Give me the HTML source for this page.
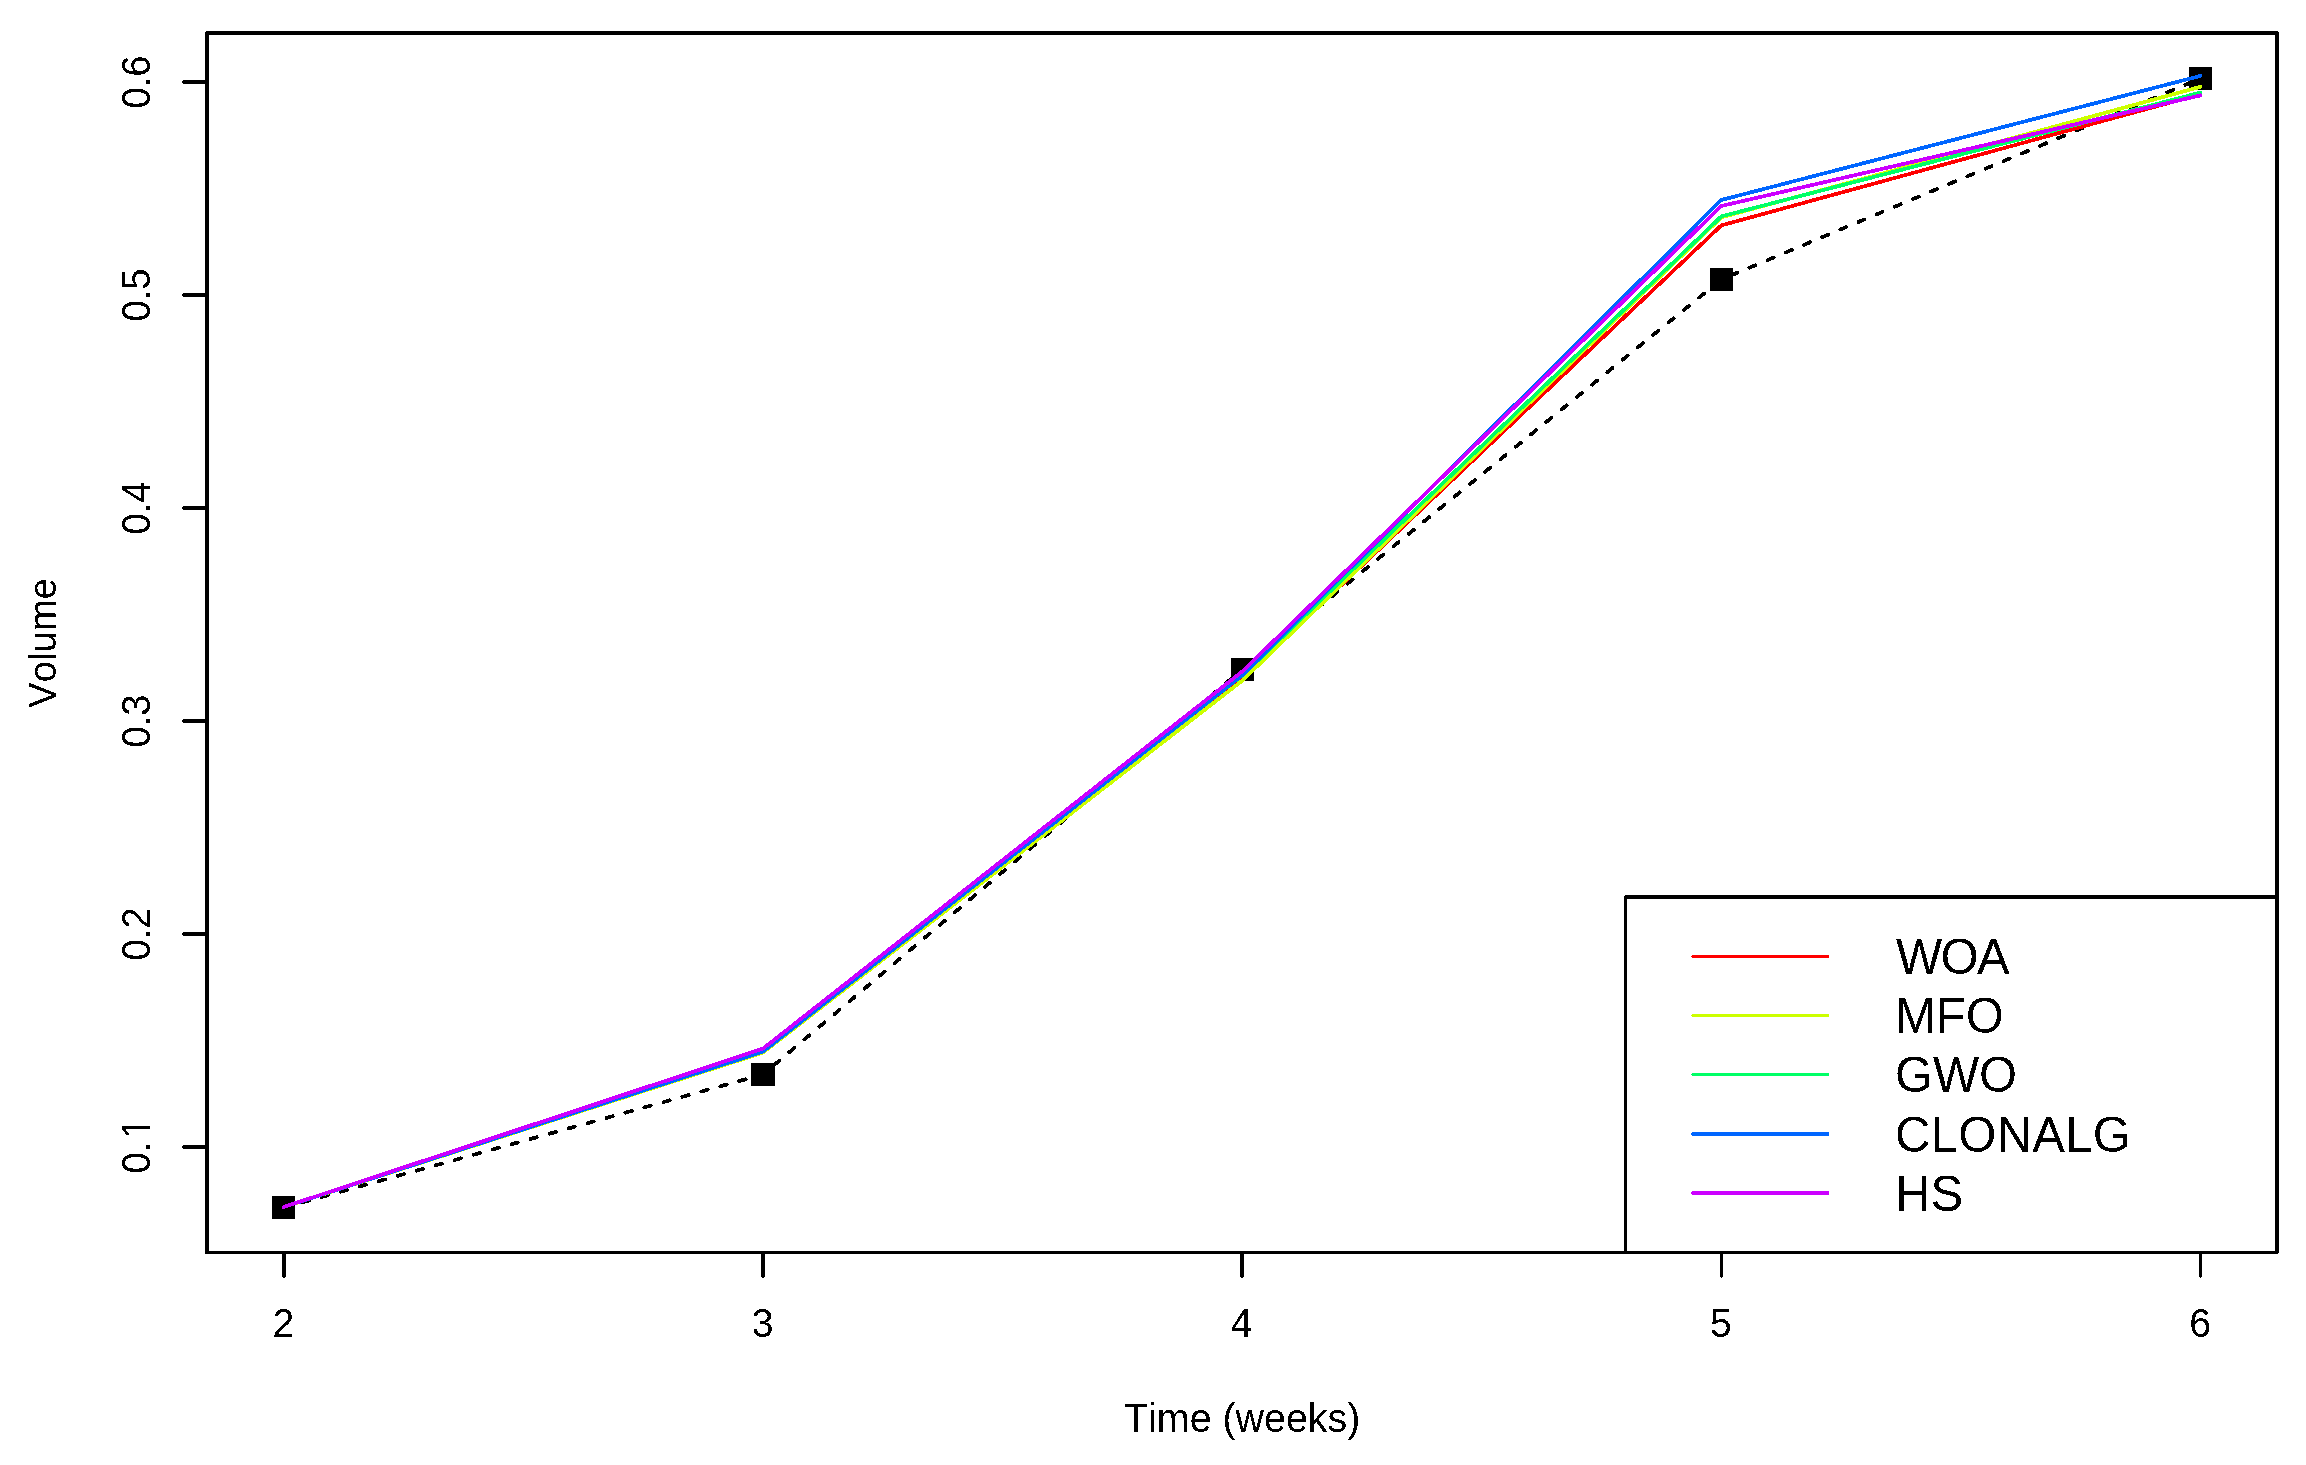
<!DOCTYPE html>
<html><head><meta charset="utf-8"><title>Volume vs Time</title>
<style>
html,body{margin:0;padding:0;background:#fff;}
svg{display:block;}
text{font-family:"Liberation Sans",Arial,Helvetica,sans-serif;fill:#000;font-kerning:none;}
</style></head><body>
<svg width="2306" height="1465" viewBox="0 0 2306 1465" shape-rendering="crispEdges">
<defs><filter id="bw" x="-5%" y="-5%" width="110%" height="110%" color-interpolation-filters="sRGB"><feComponentTransfer><feFuncA type="discrete" tableValues="0 1"/></feComponentTransfer></filter></defs>
<rect x="0" y="0" width="2306" height="1465" fill="#fff"/>

<g fill="#000" shape-rendering="crispEdges">
<rect x="272" y="1196" width="23" height="23"/>
<rect x="751" y="1063" width="24" height="23"/>
<rect x="1231" y="658" width="23" height="23"/>
<rect x="1710" y="268" width="23" height="23"/>
<rect x="2189" y="67" width="23" height="23"/>
</g>
<polyline points="283.7,1207.5 762.9,1074.5 1242.1,669.5 1721.3,279.5 2200.5,78.5" fill="none" stroke="#000" stroke-width="3.75" stroke-dasharray="6.6 13.1" stroke-linecap="round" stroke-linejoin="round"/>
<polyline points="283.7,1207.0 762.9,1051.2 1242.1,679.0 1721.3,225.4 2200.5,94.3" fill="none" stroke="#FF0000" stroke-width="3.75" stroke-linecap="round" stroke-linejoin="round"/>
<polyline points="283.7,1207.0 762.9,1052.7 1242.1,680.8 1721.3,217.4 2200.5,86.8" fill="none" stroke="#CCFF00" stroke-width="3.75" stroke-linecap="round" stroke-linejoin="round"/>
<polyline points="283.7,1207.0 762.9,1051.2 1242.1,675.6 1721.3,216.4 2200.5,92.6" fill="none" stroke="#00FF66" stroke-width="3.75" stroke-linecap="round" stroke-linejoin="round"/>
<polyline points="283.7,1207.0 762.9,1051.7 1242.1,675.4 1721.3,200.0 2200.5,75.9" fill="none" stroke="#0066FF" stroke-width="3.75" stroke-linecap="round" stroke-linejoin="round"/>
<polyline points="283.7,1207.0 762.9,1048.7 1242.1,671.6 1721.3,206.0 2200.5,95.4" fill="none" stroke="#CC00FF" stroke-width="3.75" stroke-linecap="round" stroke-linejoin="round"/>
<g shape-rendering="crispEdges">
<rect x="206" y="31" width="2072" height="4" fill="#000"/>
<rect x="205" y="32" width="1" height="3" fill="#000"/>
<rect x="2278" y="32" width="1" height="3" fill="#000"/>
<rect x="205" y="35" width="4" height="1219" fill="#000"/>
<rect x="2275" y="35" width="4" height="1218" fill="#000"/>
<rect x="2275" y="1253" width="3" height="1" fill="#000"/>
<rect x="206" y="1251" width="2072" height="3" fill="#000"/>
<rect x="205" y="1251" width="1" height="2" fill="#000"/>
<rect x="282" y="1254" width="4" height="23" fill="#000"/>
<rect x="283" y="1277" width="2" height="1" fill="#000"/>
<rect x="761" y="1254" width="4" height="23" fill="#000"/>
<rect x="762" y="1277" width="2" height="1" fill="#000"/>
<rect x="1240" y="1254" width="4" height="23" fill="#000"/>
<rect x="1241" y="1277" width="2" height="1" fill="#000"/>
<rect x="1720" y="1254" width="3" height="23" fill="#000"/>
<rect x="1721" y="1277" width="1" height="1" fill="#000"/>
<rect x="2199" y="1254" width="3" height="23" fill="#000"/>
<rect x="2200" y="1277" width="1" height="1" fill="#000"/>
<rect x="183" y="80" width="22" height="4" fill="#000"/>
<rect x="182" y="81" width="1" height="2" fill="#000"/>
<rect x="183" y="293" width="22" height="4" fill="#000"/>
<rect x="182" y="294" width="1" height="2" fill="#000"/>
<rect x="183" y="506" width="22" height="4" fill="#000"/>
<rect x="182" y="507" width="1" height="2" fill="#000"/>
<rect x="183" y="719" width="22" height="4" fill="#000"/>
<rect x="182" y="720" width="1" height="2" fill="#000"/>
<rect x="183" y="932" width="22" height="4" fill="#000"/>
<rect x="182" y="933" width="1" height="2" fill="#000"/>
<rect x="183" y="1145" width="22" height="4" fill="#000"/>
<rect x="182" y="1146" width="1" height="2" fill="#000"/>
</g>
<g shape-rendering="crispEdges">
<rect x="1627" y="899" width="648" height="352" fill="#fff"/>
<rect x="1625" y="895" width="650" height="4" fill="#000"/>
<rect x="1624" y="896" width="1" height="3" fill="#000"/>
<rect x="1624" y="899" width="3" height="352" fill="#000"/>
<rect x="1692" y="955" width="137" height="3" fill="#FF0000"/>
<rect x="1691" y="956" width="1" height="1" fill="#FF0000"/>
<rect x="1692" y="1014" width="137" height="3" fill="#CCFF00"/>
<rect x="1691" y="1015" width="1" height="1" fill="#CCFF00"/>
<rect x="1692" y="1073" width="137" height="3" fill="#00FF66"/>
<rect x="1691" y="1074" width="1" height="1" fill="#00FF66"/>
<rect x="1692" y="1132" width="137" height="4" fill="#0066FF"/>
<rect x="1691" y="1133" width="1" height="2" fill="#0066FF"/>
<rect x="1692" y="1191" width="137" height="4" fill="#CC00FF"/>
<rect x="1691" y="1192" width="1" height="2" fill="#CC00FF"/>
</g>
<g filter="url(#bw)">
<text transform="translate(283.4 1337.0) scale(1 1.030)" font-size="39.3" text-anchor="middle">2</text>
<text transform="translate(762.6 1337.0) scale(1 1.030)" font-size="39.3" text-anchor="middle">3</text>
<text transform="translate(1241.8 1337.0) scale(1 1.030)" font-size="39.3" text-anchor="middle">4</text>
<text transform="translate(1721.0 1337.0) scale(1 1.030)" font-size="39.3" text-anchor="middle">5</text>
<text transform="translate(2200.2 1337.0) scale(1 1.030)" font-size="39.3" text-anchor="middle">6</text>
<g transform="translate(150 1147.0) rotate(-90) scale(1 1.06)"><text font-size="38.3" x="-26.6 -5.3 8.0">0.1</text><rect x="10.4" y="-4.1" width="7.15" height="4.8" fill="#fff"/><rect x="21.1" y="-4.1" width="7" height="4.8" fill="#fff"/></g>
<text transform="translate(150.0 934.0) rotate(-90) scale(1 1.060)" font-size="38.3" text-anchor="middle">0.2</text>
<text transform="translate(150.0 721.0) rotate(-90) scale(1 1.060)" font-size="38.3" text-anchor="middle">0.3</text>
<text transform="translate(150.0 508.0) rotate(-90) scale(1 1.060)" font-size="38.3" text-anchor="middle">0.4</text>
<text transform="translate(150.0 295.0) rotate(-90) scale(1 1.060)" font-size="38.3" text-anchor="middle">0.5</text>
<text transform="translate(150.0 82.0) rotate(-90) scale(1 1.060)" font-size="38.3" text-anchor="middle">0.6</text>
<text transform="translate(1242.2 1432.0) scale(1 1.040)" font-size="39.4" text-anchor="middle">Time (weeks)</text>
<text transform="translate(56.0 642.8) rotate(-90) scale(1 1.035)" font-size="38.3" text-anchor="middle">Volume</text>
<text transform="translate(1896.0 974.0) scale(1 1.035)" font-size="49.0" text-anchor="start" letter-spacing="-1.70">WOA</text>
<text transform="translate(1895.0 1033.0) scale(1 1.035)" font-size="49.0" text-anchor="start">MFO</text>
<text transform="translate(1895.0 1092.0) scale(1 1.035)" font-size="49.0" text-anchor="start" letter-spacing="-0.20">GWO</text>
<text transform="translate(1895.0 1152.0) scale(1 1.035)" font-size="49.0" text-anchor="start" letter-spacing="0.30">CLONALG</text>
<text transform="translate(1895.0 1211.0) scale(1 1.035)" font-size="49.0" text-anchor="start">HS</text>
</g>
</svg></body></html>
